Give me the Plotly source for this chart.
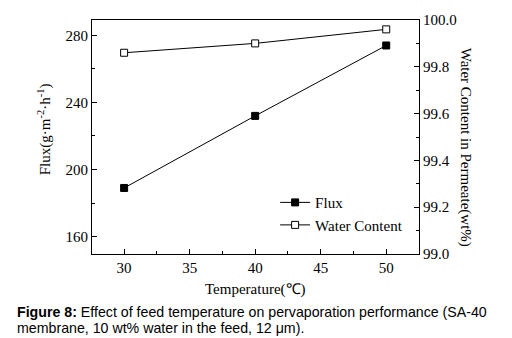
import plotly.graph_objects as go

temperature = [30, 40, 50]
flux = [189, 232, 274]
water_content = [99.86, 99.90, 99.96]

x_ticks = [30, 35, 40, 45, 50]
left_ticks = [160, 200, 240, 280]
right_ticks = [99.0, 99.2, 99.4, 99.6, 99.8, 100.0]

serif = "Liberation Serif"

fig = go.Figure()
fig.add_trace(go.Scatter(
    x=temperature, y=flux, name="Flux", mode="lines+markers",
    line=dict(color="black", width=1),
    marker=dict(symbol="square", size=7, color="black", line=dict(color="black", width=1)),
))
fig.add_trace(go.Scatter(
    x=temperature, y=water_content, name="Water Content", mode="lines+markers",
    yaxis="y2",
    line=dict(color="black", width=1),
    marker=dict(symbol="square", size=7, color="white", line=dict(color="black", width=1)),
))

axis_common = dict(
    showgrid=False, zeroline=False, showline=True, linecolor="black", linewidth=1,
    ticks="inside", ticklen=5, tickcolor="black", tickwidth=1,
    tickfont=dict(family=serif, size=15, color="black"),
)

fig.update_layout(
    width=512, height=338,
    margin=dict(l=92, r=93, t=12, b=84),
    paper_bgcolor="white", plot_bgcolor="white",
    showlegend=True,
    legend=dict(x=0.56, y=0.29, xanchor="left", yanchor="top",
                bgcolor="rgba(0,0,0,0)", font=dict(family=serif, size=15, color="black"),
                tracegroupgap=0, itemwidth=30),
    xaxis=dict(range=[27.55, 52.5], tickvals=x_ticks, mirror=True,
               minor=dict(tickvals=[32.5, 37.5, 42.5, 47.5], ticks="inside", ticklen=3, tickcolor="black"),
               **axis_common),
    yaxis=dict(range=[149.6, 289.2], tickvals=left_ticks,
               minor=dict(tickvals=[180, 220, 260], ticks="inside", ticklen=3, tickcolor="black"),
               **axis_common),
    yaxis2=dict(range=[99.0, 100.0], tickvals=right_ticks, ticktext=[f"{v:.1f}" for v in right_ticks],
                overlaying="y", side="right",
                minor=dict(tickvals=[99.1, 99.3, 99.5, 99.7, 99.9], ticks="inside", ticklen=3, tickcolor="black"),
                **axis_common),
    annotations=[
        dict(text="Flux(g·m<sup>-2</sup>·h<sup>-1</sup>)", x=44, y=125, xref="paper", yref="paper",
             xanchor="center", yanchor="middle",
             showarrow=False, textangle=-90, font=dict(family=serif, size=15, color="black")),
        dict(text="Water Content in Permeate(wt%)", x=465, y=143, xref="paper", yref="paper",
             xanchor="center", yanchor="middle",
             showarrow=False, textangle=90, font=dict(family=serif, size=15, color="black")),
        dict(text="Temperature(℃)", x=255, y=291, xref="paper", yref="paper",
             xanchor="center", yanchor="middle",
             showarrow=False, font=dict(family=serif, size=15, color="black")),
        dict(text="<b>Figure 8:</b> Effect of feed temperature on pervaporation performance (SA-40",
             x=15, y=313.5, xref="paper", yref="paper", xanchor="left", yanchor="middle", align="left",
             showarrow=False, font=dict(family="Liberation Sans", size=14.2, color="black")),
        dict(text="membrane, 10 wt% water in the feed, 12 μm).",
             x=15, y=330.5, xref="paper", yref="paper", xanchor="left", yanchor="middle", align="left",
             showarrow=False, font=dict(family="Liberation Sans", size=14.2, color="black")),
    ],
)

# convert pixel positions of annotations to paper coordinates
pw = 512 - 92 - 93
ph = 338 - 12 - 84
new_ann = []
for a in fig.layout.annotations:
    a.x = (a.x - 92) / pw
    a.y = (338 - 84 - a.y) / ph
    new_ann.append(a)
fig.layout.annotations = new_ann

fig.write_html("out.html")
